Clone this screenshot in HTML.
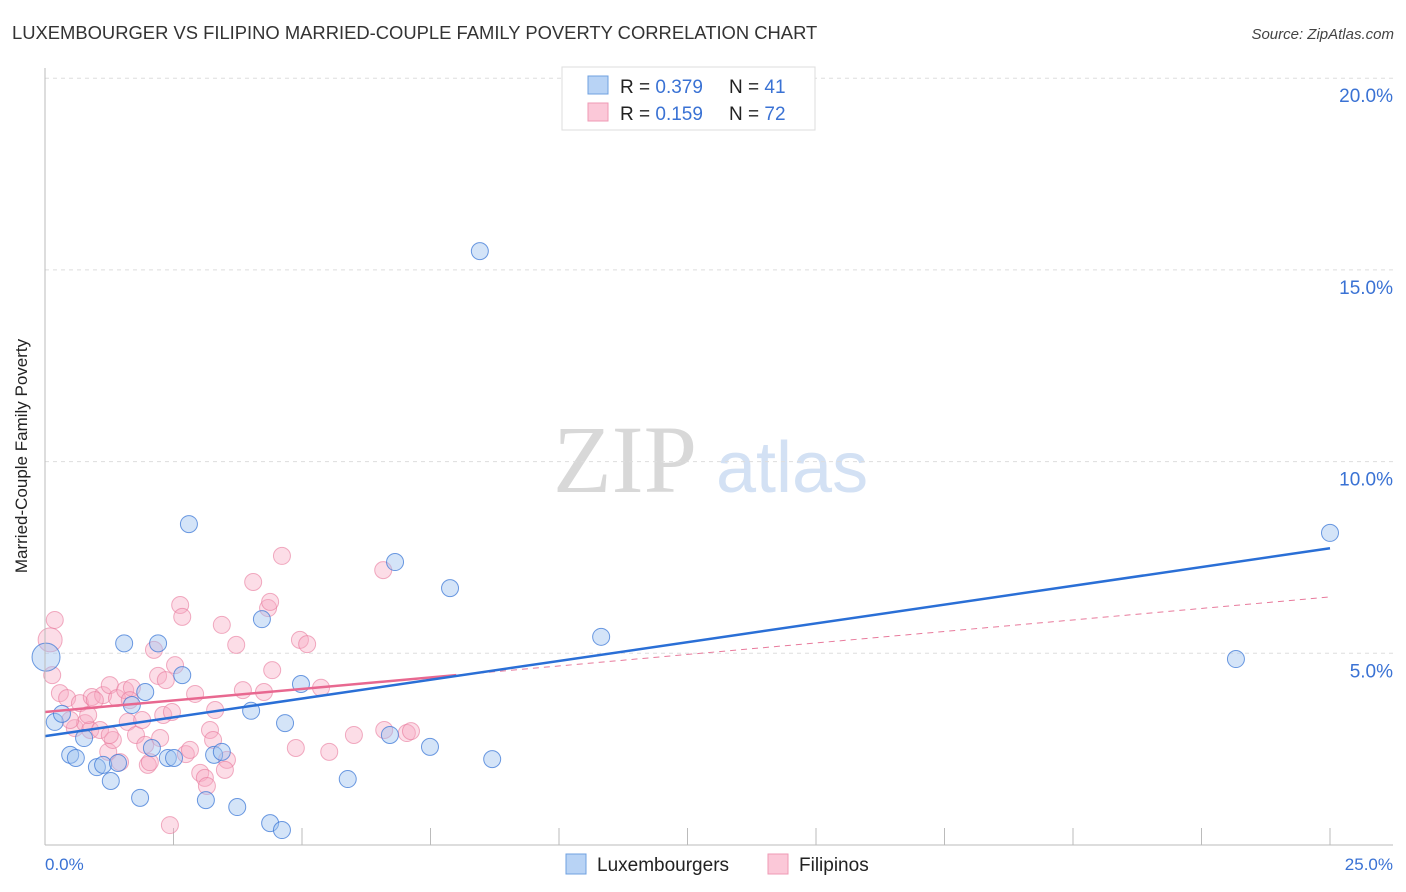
<!DOCTYPE html>
<html><head><meta charset="utf-8"><style>
body{margin:0;background:#fff;font-family:"Liberation Sans",sans-serif;}
#wrap{position:relative;width:1406px;height:892px;overflow:hidden;}
</style></head><body>
<div id="wrap">
<svg id="svg" width="1406" height="892">
<text x="12" y="39" font-size="18.4" fill="#333">LUXEMBOURGER VS FILIPINO MARRIED-COUPLE FAMILY POVERTY CORRELATION CHART</text>
<text x="1394" y="39" font-size="15" fill="#444" text-anchor="end" font-style="italic">Source: ZipAtlas.com</text>
<text x="27" y="456" font-size="17" fill="#222" text-anchor="middle" transform="rotate(-90 27 456)">Married-Couple Family Poverty</text>
<text x="553" y="492" font-size="96" fill="#d8d8d8" font-family="Liberation Serif,serif">ZIP</text>
<text x="716" y="492" font-size="72" fill="#d3e1f4">atlas</text>
<g id="grid"></g><g id="marks"></g>
<line x1="45" y1="68" x2="45" y2="845" stroke="#bbb"/>
<line x1="45" y1="845" x2="1393" y2="845" stroke="#bbb"/>
<text x="45" y="870" font-size="17" fill="#3a72d4">0.0%</text>
<text x="1393" y="870" font-size="17" fill="#3a72d4" text-anchor="end">25.0%</text>
<g>
<rect x="562" y="67" width="253" height="63" fill="#fff" stroke="#ddd"/>
<rect x="588" y="76" width="20" height="18" fill="#b8d3f5" stroke="#6fa0e0"/>
<rect x="588" y="103" width="20" height="18" fill="#fbc8d8" stroke="#ef9ab5"/>
<text x="620" y="93" font-size="19" fill="#222">R = <tspan fill="#3a72d4">0.379</tspan><tspan x="729">N = </tspan><tspan fill="#3a72d4">41</tspan></text>
<text x="620" y="120" font-size="19" fill="#222">R = <tspan fill="#3a72d4"> 0.159</tspan><tspan x="729">N = </tspan><tspan fill="#3a72d4">72</tspan></text>
</g>
<g>
<rect x="566" y="854" width="20" height="20" fill="#b8d3f5" stroke="#6fa0e0"/>
<text x="597" y="871" font-size="19" fill="#222">Luxembourgers</text>
<rect x="768" y="854" width="20" height="20" fill="#fbc8d8" stroke="#ef9ab5"/>
<text x="799" y="871" font-size="19" fill="#222">Filipinos</text>
</g>
</svg></div>
<script>
const yTicks=[5,10,15,20];
const xTicks=[2.5,5,7.5,10,12.5,15,17.5,20,22.5,25];
const luxX=[0.19,0.33,0.49,0.60,0.76,1.01,1.13,1.28,1.42,1.54,1.69,1.85,1.95,2.08,2.20,2.39,2.51,2.67,2.80,3.13,3.29,3.44,3.74,4.01,4.22,4.38,4.61,4.67,4.98,5.89,6.71,6.81,7.49,7.88,8.46,8.70,10.82,23.17,25.0,0.02];
const luxY=[3.21,3.42,2.35,2.27,2.79,2.03,2.09,1.67,2.14,5.26,3.65,1.23,3.99,2.53,5.26,2.27,2.27,4.43,8.37,1.17,2.35,2.43,0.99,3.50,5.89,0.57,0.39,3.18,4.20,1.72,2.87,7.38,2.56,6.70,15.49,2.24,5.43,4.85,8.14,4.90];
const filX=[0.19,0.10,0.14,0.29,0.43,0.58,0.68,0.78,0.88,0.91,1.07,1.13,1.23,1.26,1.32,1.40,1.46,1.56,1.61,1.69,1.77,1.95,2.00,2.04,2.12,2.20,2.24,2.30,2.35,2.47,2.53,2.63,2.67,2.74,2.82,2.92,3.02,3.11,3.15,3.21,3.27,3.31,3.44,3.54,3.72,3.85,4.05,4.26,4.34,4.38,4.42,4.61,4.88,4.96,5.10,5.37,5.53,6.01,6.58,6.60,7.04,7.12,2.43,0.97,1.65,1.26,0.49,0.84,1.89,3.50];
const filY=[5.87,5.35,4.43,3.96,3.83,3.05,3.70,3.18,3.00,3.86,3.00,3.91,2.43,4.17,2.74,3.83,2.16,4.04,3.21,4.10,2.87,2.61,2.09,2.16,5.09,4.41,2.79,3.39,4.30,3.47,4.69,6.26,5.95,2.37,2.48,3.94,1.88,1.75,1.54,3.00,2.74,3.52,5.74,2.22,5.22,4.04,6.86,3.99,6.18,6.34,4.56,7.54,2.53,5.35,5.24,4.10,2.43,2.87,7.17,3.00,2.92,2.97,0.52,3.78,3.78,2.87,3.26,3.39,3.26,1.96];
const luxTrend=[2.84,7.74];
const filTrend=[3.47,6.47];
const filSolidEnd=8.0;
const X=v=>45+v/25*1285, Y=v=>845-v/5*191.7;
const NS='http://www.w3.org/2000/svg';
const grid=document.getElementById('grid'), marks=document.getElementById('marks');
function mk(tag,attrs,parent){const e=document.createElementNS(NS,tag);for(const k in attrs)e.setAttribute(k,attrs[k]);parent.appendChild(e);return e;}
yTicks.forEach(t=>{
  const l=mk('line',{x1:45,x2:1393,y1:Y(t),y2:Y(t),stroke:'#ddd','stroke-dasharray':'4,4'},grid);
  
  
  const tx=mk('text',{x:1393,y:Y(t)+24,'font-size':19,fill:'#3a72d4','text-anchor':'end'},grid);
  tx.textContent=t.toFixed(1)+'%';
  
  
});
xTicks.forEach(t=>{
  const l=mk('line',{x1:X(t),x2:X(t),y1:828,y2:845,stroke:'#bbb'},grid);
  
  
});
filX.forEach((x,i)=>{
  const big=i===1;
  const c=mk('circle',{cx:X(x),cy:Y(filY[i]),r:big?12:8.5,fill:'rgba(247,170,195,0.4)',stroke:'rgba(232,120,155,0.6)','stroke-width':1},marks);
  
  
});
luxX.forEach((x,i)=>{
  const big=i===luxX.length-1;
  const c=mk('circle',{cx:X(x),cy:Y(luxY[i]),r:big?14:8.5,fill:'rgba(160,195,240,0.45)',stroke:'rgba(60,120,215,0.75)','stroke-width':1},marks);
  
  
});
const fy=x=>filTrend[0]+(filTrend[1]-filTrend[0])*x/25;
let l1=mk('line',{x1:X(filSolidEnd),y1:Y(fy(filSolidEnd)),x2:X(25),y2:Y(fy(25)),stroke:'#e87a9c','stroke-width':1,'stroke-dasharray':'6,5'},marks);


let l2=mk('line',{x1:X(0),y1:Y(fy(0)),x2:X(filSolidEnd),y2:Y(fy(filSolidEnd)),stroke:'#e86890','stroke-width':2.5},marks);


let l3=mk('line',{x1:X(0),y1:Y(luxTrend[0]),x2:X(25),y2:Y(luxTrend[1]),stroke:'#2a6fd6','stroke-width':2.5},marks);


</script>
</body></html>
